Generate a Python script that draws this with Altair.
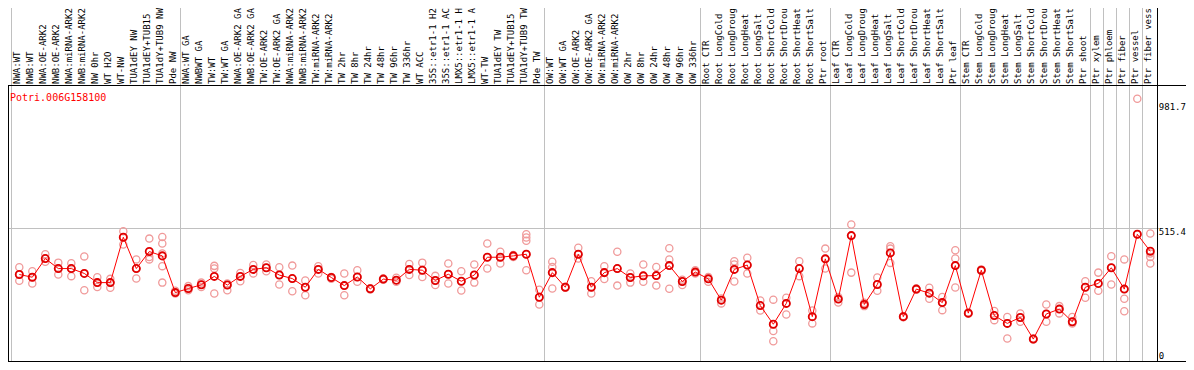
import altair as alt
import pandas as pd

gene = "Potri.006G158100"

labels = [
    "NWA:WT", "NWB:WT", "NWA:OE-ARK2", "NWB:OE-ARK2", "NWA:miRNA-ARK2", "NWB:miRNA-ARK2",
    "NW 0hr", "WT H2O", "WT-NW", "TUA1dEY NW", "TUA1dEY+TUB15", "TUA1dY+TUB9 NW", "Pde NW",
    "NWA:WT GA", "NWBWT GA", "TW:WT", "TW:WT GA", "NWA:OE-ARK2 GA", "NWB:OE-ARK2 GA",
    "TW:OE-ARK2", "TW:OE-ARK2 GA", "NWA:miRNA-ARK2", "NWB:miRNA-ARK2", "TW:miRNA-ARK2",
    "TW:miRNA-ARK2", "TW 2hr", "TW 8hr", "TW 24hr", "TW 48hr", "TW 96hr", "TW 336hr",
    "WT ACC", "35S::etr1-1 H2", "35S::etr1-1 AC", "LMX5::etr1-1 H", "LMX5::etr1-1 A",
    "WT-TW", "TUA1dEY TW", "TUA1dEY+TUB15", "TUA1dY+TUB9 TW", "Pde TW",
    "OW:WT", "OW:WT GA", "OW:OE-ARK2", "OW:OE-ARK2 GA", "OW:miRNA-ARK2", "OW:miRNA-ARK2",
    "OW 2hr", "OW 8hr", "OW 24hr", "OW 48hr", "OW 96hr", "OW 336hr",
    "Root CTR", "Root LongCold", "Root LongDroug", "Root LongHeat", "Root LongSalt",
    "Root ShortCold", "Root ShortDrou", "Root ShortHeat", "Root ShortSalt", "Ptr root",
    "Leaf CTR", "Leaf LongCold", "Leaf LongDroug", "Leaf LongHeat", "Leaf LongSalt",
    "Leaf ShortCold", "Leaf ShortDrou", "Leaf ShortHeat", "Leaf ShortSalt", "Ptr leaf",
    "Stem CTR", "Stem LongCold", "Stem LongDroug", "Stem LongHeat", "Stem LongSalt",
    "Stem ShortCold", "Stem ShortDrou", "Stem ShortHeat", "Stem ShortSalt", "Ptr shoot",
    "Ptr xylem", "Ptr phloem", "Ptr fiber", "Ptr vessel", "Ptr fiber vess",
]

means = [
    345, 335, 404, 367, 367, 349, 315, 315, 483, 367, 430, 414, 278,
    293, 307, 338, 306, 338, 364, 370, 343, 330, 298, 364, 334, 304, 336, 292, 328, 324,
    364, 361, 323, 346, 320, 343, 409, 409, 414, 420, 261,
    352, 298, 420, 298, 352, 367, 334, 340, 341, 378, 319, 354,
    329, 250, 364, 380, 230, 161, 238, 367, 189, 403,
    254, 489, 234, 308, 425, 189, 291, 276, 241, 378,
    202, 361, 193, 164, 186, 106, 199, 217, 170, 298,
    312, 370, 291, 494, 431,
]

replicates = [
    [372, 345, 322], [357, 335, 312], [420, 404, 392], [389, 367, 345], [387, 367, 339],
    [412, 349, 287], [335, 315, 299], [329, 315, 296], [505, 483, 456], [401, 367, 330],
    [478, 410, 401], [484, 460, 423, 376, 315], [285, 275],
    [302, 293, 287], [315, 307, 299], [377, 367, 275], [312, 306, 287], [351, 338, 320],
    [380, 364, 349], [382, 370, 357], [372, 343, 308], [378, 330, 283], [323, 298, 268],
    [376, 364, 349], [336, 334, 329], [349, 304, 268], [361, 336, 318], [290, 292, 294],
    [326, 328, 330], [333, 324, 318], [384, 364, 343], [389, 361, 336], [340, 323, 306],
    [386, 346, 312], [357, 320, 286], [382, 343, 315], [460, 409, 367], [429, 409, 386],
    [417, 414, 410], [494, 482, 470, 420, 361], [289, 261, 234],
    [392, 373, 352, 293], [296, 298, 300], [444, 420, 404], [320, 298, 275], [376, 352, 328],
    [429, 367, 304], [349, 334, 315], [382, 340, 318], [373, 341, 304], [442, 401, 378, 292],
    [326, 319, 306], [361, 354, 349],
    [336, 329, 318], [256, 250, 238], [394, 382, 364, 319], [407, 380, 349], [249, 230, 212],
    [252, 161, 136, 98], [259, 238, 197], [394, 367, 339], [212, 189, 164], [441, 403, 367],
    [262, 254, 241], [530, 489, 352], [240, 234, 228], [334, 308, 285], [450, 441, 425, 388],
    [187, 189, 191], [289, 291, 293], [296, 276, 255], [262, 241, 213], [435, 404, 378, 297],
    [200, 202, 204], [364, 361, 358], [210, 193, 176], [188, 164, 108], [201, 186, 170],
    [104, 106, 108], [234, 199, 170], [228, 217, 201], [188, 170, 164], [320, 298, 259],
    [352, 312, 285], [413, 370, 308], [401, 291, 255, 209], [996, 494, 0], [497, 423, 410, 386],
]

group_starts = [0, 13, 41, 53, 63, 73, 83, 84, 85, 86, 87]
axis_marks = [981.7, 515.4]
axis_zero = [0]
grid_values = [515.4]

W, H = 1178, 354
FONT = "DejaVu Sans Mono"
BOTTOM = 353.5

df_mean = pd.DataFrame({"i": list(range(len(labels))), "label": labels, "mean": means})
rep_i, rep_v = [], []
for k, reps in enumerate(replicates):
    for v in reps:
        rep_i.append(k)
        rep_v.append(v)
df_rep = pd.DataFrame({"i": rep_i, "v": rep_v})
df_sep = pd.DataFrame({"k": group_starts})
df_one = pd.DataFrame({"a": [0]})

xs = alt.Scale(domain=[0, 87], range=[11.3, 1142.3], nice=False, zero=False)
ys = alt.Scale(domain=[0, 1000], range=[359.7, 89.6], nice=False, zero=False)

grid = alt.Chart(pd.DataFrame({"v": grid_values})).mark_rule(color="#c0c0c0", strokeWidth=1).encode(
    y=alt.Y("v:Q", scale=ys, axis=None), x=alt.value(0.5), x2=alt.value(1151)
)

seps = alt.Chart(df_sep).transform_calculate(sx="datum.k - 0.6").mark_rule(
    color="#c0c0c0", strokeWidth=1
).encode(x=alt.X("sx:Q", scale=xs, axis=None), y=alt.value(0), y2=alt.value(BOTTOM))

frame_top = alt.Chart(df_one).mark_rule(color="black", strokeWidth=1).encode(
    x=alt.value(0), x2=alt.value(W), y=alt.value(77.5)
)
frame_bottom = alt.Chart(df_one).mark_rule(color="black", strokeWidth=1).encode(
    x=alt.value(0), x2=alt.value(W), y=alt.value(BOTTOM)
)
frame_left = alt.Chart(df_one).mark_rule(color="black", strokeWidth=1).encode(
    x=alt.value(0.5), y=alt.value(77.5), y2=alt.value(BOTTOM)
)
frame_right = alt.Chart(df_one).mark_rule(color="black", strokeWidth=1).encode(
    x=alt.value(1149.5), y=alt.value(0), y2=alt.value(BOTTOM)
)

label_text = alt.Chart(df_mean).transform_calculate(lx="datum.i - 0.15").mark_text(
    angle=270, align="left", baseline="middle", font=FONT, fontSize=9, color="black"
).encode(x=alt.X("lx:Q", scale=xs, axis=None), y=alt.value(76), text="label:N")

rep_pts = alt.Chart(df_rep).mark_point(
    shape="circle", filled=False, size=52, color="#f09a9a", strokeWidth=1.3, opacity=1
).encode(x=alt.X("i:Q", scale=xs, axis=None), y=alt.Y("v:Q", scale=ys, axis=None))

mean_line = alt.Chart(df_mean).mark_line(color="#ff0000", strokeWidth=1).encode(
    x=alt.X("i:Q", scale=xs, axis=None), y=alt.Y("mean:Q", scale=ys, axis=None)
)

mean_pts = alt.Chart(df_mean).mark_point(
    shape="circle", filled=False, size=52, color="#e00000", strokeWidth=1.8, opacity=1
).encode(x=alt.X("i:Q", scale=xs, axis=None), y=alt.Y("mean:Q", scale=ys, axis=None))

title = alt.Chart(pd.DataFrame({"t": [gene]})).mark_text(
    align="left", baseline="alphabetic", font=FONT, fontSize=10, color="#ff0000"
).encode(x=alt.value(2), y=alt.value(92.5), text="t:N")

right_labels = alt.Chart(pd.DataFrame({"v": axis_marks})).mark_text(
    align="left", baseline="top", font=FONT, fontSize=9, color="black"
).encode(x=alt.value(1150.8), y=alt.Y("v:Q", scale=ys, axis=None), text=alt.Text("v:Q", format=".1f"))

zero_label = alt.Chart(pd.DataFrame({"v": axis_zero})).mark_text(
    align="left", baseline="alphabetic", font=FONT, fontSize=9, color="black", dy=-8.5
).encode(x=alt.value(1150.8), y=alt.Y("v:Q", scale=ys, axis=None), text=alt.Text("v:Q", format="d"))

chart = alt.layer(
    grid, seps, frame_top, frame_bottom, frame_left, frame_right,
    label_text, rep_pts, mean_line, mean_pts, title, right_labels, zero_label
).properties(
    width=W, height=H, autosize=alt.AutoSizeParams(type="none"), padding=0, background="white"
).configure_view(stroke=None)

chart.save("out.html", embed_options={"renderer": "svg", "actions": False})
